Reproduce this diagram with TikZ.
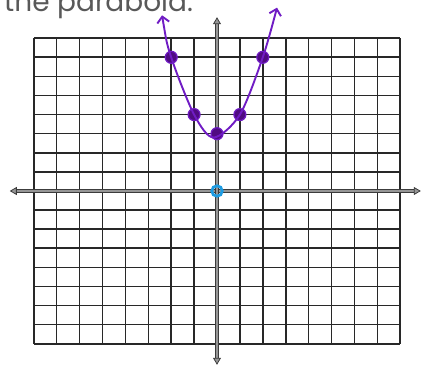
\documentclass[tikz,border=0pt]{standalone}
\usepackage{fontspec}
\setmainfont{Poppins}
\usetikzlibrary{arrows.meta}
\definecolor{gridclr}{RGB}{40,40,40}
\definecolor{axisclr}{RGB}{150,150,150}
\definecolor{axisedge}{RGB}{60,60,60}
\definecolor{curvepurple}{RGB}{112,28,196}
\definecolor{dotpurple}{RGB}{80,12,130}
\definecolor{originblue}{RGB}{30,155,225}
\tikzset{
  % grid and axes
  gridline/.style  = {line width=1.6pt, draw=gridclr},
  axisline/.style  = {draw=axisedge, line width=0.8pt, double=axisclr, double distance=1.8pt,
                      {Triangle[length=7pt,width=8pt,fill=axisclr]}-{Triangle[length=7pt,width=8pt,fill=axisclr]}},
  % parabola
  curveline/.style = {line width=1.9pt, draw=curvepurple, line cap=round, line join=round,
                      {Straight Barb[length=6pt,width=12pt]}-{Straight Barb[length=6pt,width=12pt]}},
  dotpt/.style     = {circle, fill=dotpurple, draw=curvepurple, line width=1.2pt, inner sep=0pt, minimum size=12pt},
  originring/.style= {circle, draw=originblue, line width=2.8pt, inner sep=0pt, minimum size=10.5pt},
  % text
  lab/.style       = {font=\fontsize{28}{30}\selectfont, text=black!65, inner sep=0pt},
}
\begin{document}
\begin{tikzpicture}[x=22.9pt, y=19.1pt]
  \useasboundingbox (-9.476,-9.319) rectangle (8.952,10.0);
  % title, cut at the top
  \node[lab, anchor=base west] (title) at (-9.3,9.42) {the parabola.};
  % grid 16 x 16
  \draw[gridline, step=1] (-8,-8) grid (8,8);
  % axes
  \coordinate (xleft)  at (-9.05,0);
  \coordinate (xright) at (8.9,0);
  \coordinate (ytop)   at (0,9.1);
  \coordinate (ybot)   at (0,-9.1);
  \draw[axisline] (xleft) -- (xright);
  \draw[axisline] (ybot) -- (ytop);
  % points of y = x^2 + 3
  \coordinate (endL) at (-2.4,9.2);
  \coordinate (endR) at (2.62,9.6);
  \node[dotpt] (pA) at (-2,7) {};
  \node[dotpt] (pB) at (-1,4) {};
  \node[dotpt] (pC) at (0,3) {};
  \node[dotpt] (pD) at (1,4) {};
  \node[dotpt] (pE) at (2,7) {};
  \draw[curveline] plot[smooth, tension=0.5] coordinates
    {(endL) (pA.center) (pB.center) (-0.15,2.8) (pD.center) (pE.center) (endR)};
  % origin
  \node[originring] (origin) at (0,0) {};
\end{tikzpicture}
\end{document}
